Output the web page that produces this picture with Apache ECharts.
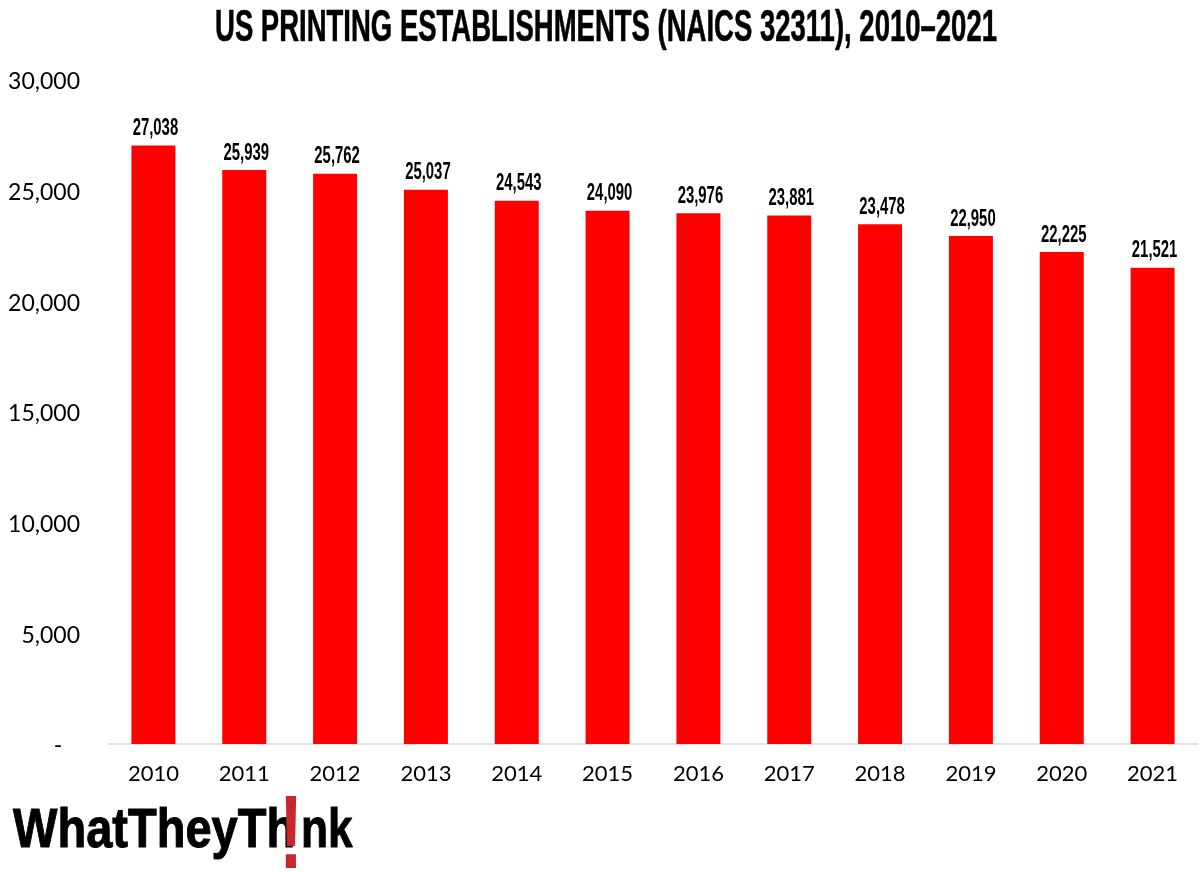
<!DOCTYPE html>
<html>
<head>
<meta charset="utf-8">
<script src="https://cdn.jsdelivr.net/npm/echarts@6/dist/echarts.min.js"></script>
<style>
  html, body { margin: 0; padding: 0; background: #fff; }
  #chart { width: 1200px; height: 872px; }
</style>
</head>
<body>
<div id="chart"></div>
<script>
const years = ['2010', '2011', '2012', '2013', '2014', '2015', '2016', '2017', '2018', '2019', '2020', '2021']
const establishments = [27038, 25939, 25762, 25037, 24543, 24090, 23976, 23881, 23478, 22950, 22225, 21521]
const titleText = 'US PRINTING ESTABLISHMENTS (NAICS 32311), 2010–2021'

const headFont = '"Liberation Sans", sans-serif'
const axisFont = 'Lato, "Noto Sans", sans-serif'

function formatNumber(value) {
  return String(value).replace(/\B(?=(\d{3})+$)/g, ',')
}

// condensed value labels, there is no narrow font installed so the text is squeezed
function renderValueLabel(params, api) {
  const point = api.coord([api.value(0), api.value(1)])
  return {
    type: 'text',
    x: point[0] + 2,
    y: point[1] - 5,
    scaleX: 0.62,
    style: {
      text: formatNumber(api.value(1)),
      align: 'center',
      verticalAlign: 'bottom',
      fontFamily: headFont,
      fontSize: 24,
      fontWeight: 'bold',
      fill: '#000',
    },
  }
}

function logoText(text, x, y, fontSize, scaleX, fill, stroke) {
  return {
    type: 'text',
    x,
    y,
    scaleX,
    style: {
      text,
      fontFamily: headFont,
      fontSize,
      fontWeight: 'bold',
      fill,
      stroke,
      lineWidth: stroke ? 1 : 0,
    },
  }
}

const chart = echarts.init(document.getElementById('chart'))
chart.setOption({
  animation: false,
  backgroundColor: '#fff',
  grid: {
    left: 108,
    right: 2,
    top: 80,
    bottom: 128,
  },
  xAxis: {
    type: 'category',
    data: years,
    axisLine: { lineStyle: { color: '#d9d9d9', width: 1.5 } },
    axisTick: { show: false },
    axisLabel: {
      margin: 19,
      fontFamily: axisFont,
      fontSize: 22,
      color: '#000',
    },
  },
  yAxis: {
    type: 'value',
    min: 0,
    max: 30000,
    interval: 5000,
    axisLine: { show: false },
    axisTick: { show: false },
    splitLine: { show: false },
    axisLabel: {
      margin: 28,
      formatter: (value) => `{tick|${value === 0 ? '-\u00a0\u00a0\u00a0' : formatNumber(value)}}`,
      rich: {
        tick: {
          padding: [4, 0, 0, 0],
          fontFamily: axisFont,
          fontSize: 23,
          color: '#000',
        },
      },
    },
  },
  series: [
    {
      type: 'bar',
      data: establishments,
      barWidth: 44,
      itemStyle: { color: '#ff0000' },
    },
    {
      type: 'custom',
      data: establishments.map((value, i) => [i, value]),
      renderItem: renderValueLabel,
      silent: true,
      z: 5,
    },
  ],
  graphic: [
    {
      type: 'text',
      x: 606,
      y: 7,
      scaleX: 0.625,
      style: {
        text: titleText,
        align: 'center',
        fontFamily: headFont,
        fontSize: 44,
        fontWeight: 'bold',
        fill: '#000',
        stroke: '#000',
        lineWidth: 0.6,
      },
    },
    logoText('WhatTheyTh', 13, 804, 56, 0.84, '#000', '#000'),
    logoText('!', 279, 788, 103, 0.7, '#c8282d'),
    logoText('nk', 301, 804, 56, 0.79, '#000', '#000'),
  ],
})
</script>
</body>
</html>
